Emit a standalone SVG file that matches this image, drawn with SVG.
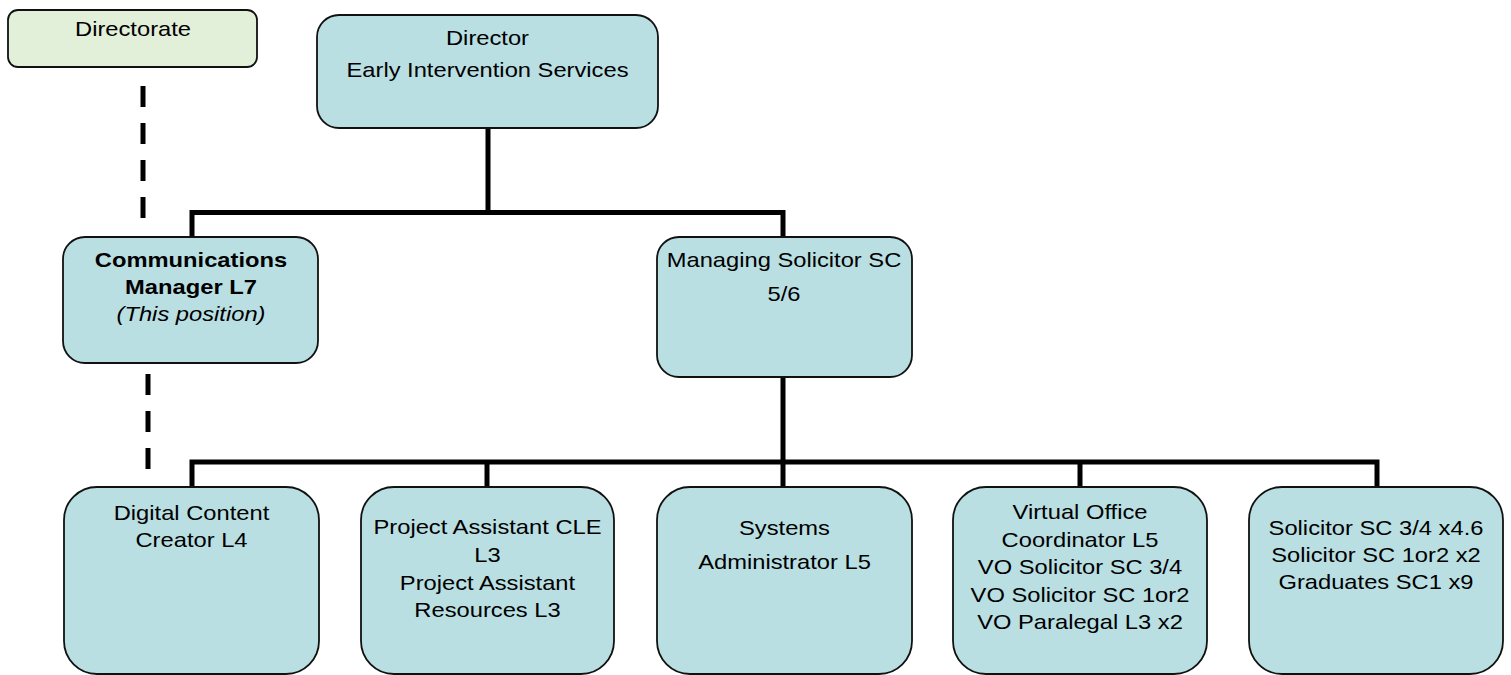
<svg xmlns="http://www.w3.org/2000/svg" width="1511" height="675" viewBox="0 0 1511 675">
<style>
.box{fill:#b9dfe3;stroke:#111;stroke-width:1.8}
.green{fill:#e2efd9;stroke:#111;stroke-width:1.8}
.t{font-family:"Liberation Sans",Arial,sans-serif;font-size:21px;fill:#000;text-anchor:middle}
.b{font-weight:bold}
.i{font-style:italic}
.line{stroke:#000;stroke-width:5;fill:none;stroke-linecap:butt}
.dash{stroke:#000;stroke-width:5;fill:none;stroke-dasharray:21 16}
</style>
<rect width="1511" height="675" fill="#fff"/>
<g id="connectors">
<path class="line" d="M488,128 V212.5 M192,237 V212.5 H783 V237"/>
<path class="line" d="M783,377 V462 M192,487 V462 H1377 V487 M487,462 V487 M783,462 V487 M1080,462 V487"/>
<path class="dash" d="M143,86 V218"/>
<path class="dash" d="M148,374 V469"/>
</g>
<g id="directorate">
<rect class="green" x="8" y="10" width="249" height="57" rx="10"/>
<text class="t" transform="translate(133 36) scale(1.13 1)">Directorate</text>
</g>
<g id="director">
<rect class="box" x="317" y="15" width="341" height="113" rx="22"/>
<text class="t" transform="translate(487.5 45) scale(1.13 1)">Director</text>
<text class="t" transform="translate(487.5 77) scale(1.13 1)">Early Intervention Services</text>
</g>
<g id="comms">
<rect class="box" x="63" y="237" width="255" height="126" rx="22"/>
<text class="t b" transform="translate(191 267) scale(1.13 1)">Communications</text>
<text class="t b" transform="translate(191 294) scale(1.13 1)">Manager L7</text>
<text class="t i" transform="translate(191 321) scale(1.13 1)">(This position)</text>
</g>
<g id="managing">
<rect class="box" x="657" y="237" width="255" height="140" rx="22"/>
<text class="t" transform="translate(784 267) scale(1.13 1)">Managing Solicitor SC</text>
<text class="t" transform="translate(784 301) scale(1.13 1)">5/6</text>
</g>
<g id="digital">
<rect class="box" x="64" y="487" width="255" height="187" rx="33"/>
<text class="t" transform="translate(191.5 520) scale(1.13 1)">Digital Content</text>
<text class="t" transform="translate(191.5 547) scale(1.13 1)">Creator L4</text>
</g>
<g id="project">
<rect class="box" x="361" y="487" width="253" height="187" rx="33"/>
<text class="t" transform="translate(487.5 534) scale(1.13 1)">Project Assistant CLE</text>
<text class="t" transform="translate(487.5 562) scale(1.13 1)">L3</text>
<text class="t" transform="translate(487.5 590) scale(1.13 1)">Project Assistant</text>
<text class="t" transform="translate(487.5 617) scale(1.13 1)">Resources L3</text>
</g>
<g id="systems">
<rect class="box" x="657" y="487" width="255" height="187" rx="33"/>
<text class="t" transform="translate(784.5 535) scale(1.13 1)">Systems</text>
<text class="t" transform="translate(784.5 569) scale(1.13 1)">Administrator L5</text>
</g>
<g id="virtual">
<rect class="box" x="953" y="487" width="254" height="187" rx="33"/>
<text class="t" transform="translate(1080 519) scale(1.13 1)">Virtual Office</text>
<text class="t" transform="translate(1080 547) scale(1.13 1)">Coordinator L5</text>
<text class="t" transform="translate(1080 574) scale(1.13 1)">VO Solicitor SC 3/4</text>
<text class="t" transform="translate(1080 602) scale(1.13 1)">VO Solicitor SC 1or2</text>
<text class="t" transform="translate(1080 629) scale(1.13 1)">VO Paralegal L3 x2</text>
</g>
<g id="solicitors">
<rect class="box" x="1249" y="487" width="254" height="187" rx="33"/>
<text class="t" transform="translate(1376 535) scale(1.13 1)">Solicitor SC 3/4 x4.6</text>
<text class="t" transform="translate(1376 562) scale(1.13 1)">Solicitor SC 1or2 x2</text>
<text class="t" transform="translate(1376 589) scale(1.13 1)">Graduates SC1 x9</text>
</g>
</svg>
